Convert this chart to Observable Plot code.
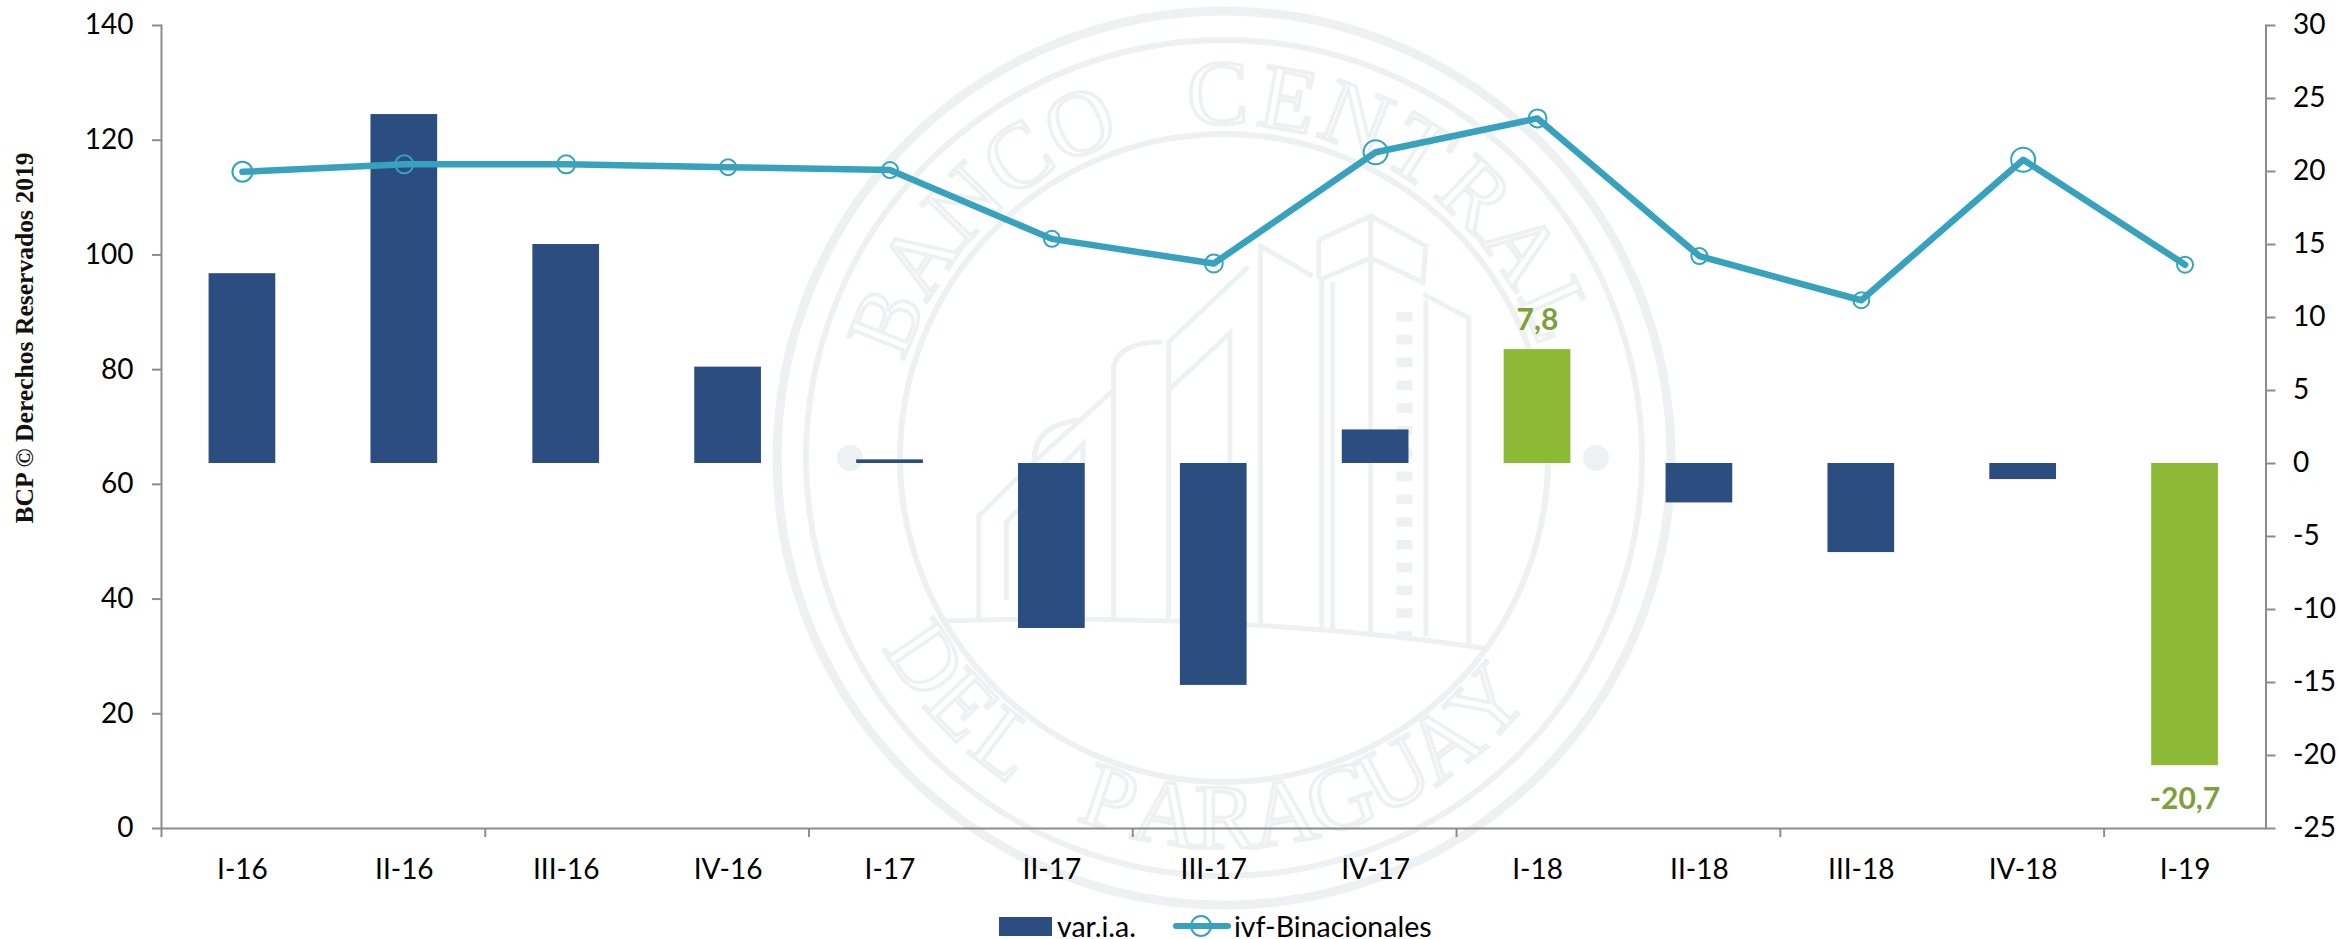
<!DOCTYPE html>
<html><head><meta charset="utf-8">
<script src="https://cdn.jsdelivr.net/npm/d3@7"></script>
<script src="https://cdn.jsdelivr.net/npm/@observablehq/plot@0.6"></script>
<style>
html,body{margin:0;padding:0;background:#fff;width:2338px;height:939px;overflow:hidden;font-family:Lato,sans-serif;color:#000}
#wm{position:absolute;left:0;top:0;z-index:0}
#chart{position:absolute;left:0;top:0;z-index:1}
#chart svg{background:transparent;display:block}
#legend{position:absolute;left:0;top:895px;width:2338px;height:44px;z-index:2;font-size:28.5px;line-height:28px}
#legend .sw{position:absolute;left:999px;top:22px;width:53px;height:19px;background:#2b4d80}
#legend .t{position:absolute;top:17px;white-space:nowrap}
#legend svg{position:absolute;left:1170px;top:16px}
</style></head><body>
<svg id="wm" width="2338" height="939" xmlns="http://www.w3.org/2000/svg">
<g fill="none" stroke="#eef1f1">
<circle cx="1224" cy="458" r="447" stroke-width="9"/>
<circle cx="1224" cy="458" r="418" stroke-width="6"/>
<circle cx="1224" cy="458" r="324" stroke-width="6"/>
<g transform="translate(740,0) scale(0.6124,0.6)" stroke-width="8">
<path d="M335,1035 Q800,1020 1215,1080"/>
<path d="M390,1030 V860 L480,770 Q480,705 560,700 M480,770 L610,650 M435,1000 V870 L560,740 V1030 M610,1030 V610 Q620,570 690,570 M700,1030 V570 L830,445 M700,650 L800,555 V1035 M850,1040 V410 L935,460 M945,400 L1030,360 L1120,410 L1115,470 L1030,430 L950,465 V1050 M945,400 V465 M1030,360 V1060 M968,470 V1050 M1115,490 L1190,530 V1075 M1120,500 V1060"/>
<path d="M1085,520 V1060" stroke-width="26" stroke-dasharray="16 22"/>
</g>
</g>
<circle cx="850" cy="458" r="13" fill="#eef1f1"/>
<circle cx="1596" cy="458" r="13" fill="#eef1f1"/>
<g id="wmText" font-family="Liberation Serif" font-size="92" fill="none" stroke="#eef1f1" stroke-width="3.5" text-anchor="middle"></g>
<text transform="translate(33,338) rotate(-90)" text-anchor="middle" font-family="Liberation Serif" font-weight="bold" font-size="25.6" fill="#111">BCP © Derechos Reservados 2019</text>
</svg>
<div id="chart"></div>
<div id="legend">
<div class="sw"></div><div class="t" style="left:1057px">var.i.a.</div>
<svg width="64" height="30"><line x1="6" x2="58" y1="15" y2="15" stroke="#36a2bd" stroke-width="6" stroke-linecap="round"/><circle cx="31" cy="15" r="10" fill="none" stroke="#36a2bd" stroke-width="2"/></svg>
<div class="t" style="left:1234px">ivf-Binacionales</div>
</div>
<script>
const periods = ["I-16","II-16","III-16","IV-16","I-17","II-17","III-17","IV-17","I-18","II-18","III-18","IV-18","I-19"];
const varIA = [13.0,23.9,15.0,6.6,0.25,-11.3,-15.2,2.3,7.8,-2.7,-6.1,-1.1,-20.7];
const ivf = [114.5,115.8,115.8,115.3,114.8,102.8,98.5,117.9,123.8,99.8,92.1,116.6,98.3];
const markerSize = [10,9,9,8,8,8,9,12,9,8,8,12,8];
const highlighted = ["I-18","I-19"];
const leftTicks = [0,20,40,60,80,100,120,140];
const rightTicks = [-25,-20,-15,-10,-5,0,5,10,15,20,25,30];
const edgeTicks = ["I-16","III-16","I-17","III-17","I-18","III-18","I-19"];

// Watermark seal lettering, one letter at a time around the ring
const wmG = d3.select("#wmText");
const sealTop = "BANCO CENTRAL", sealBottom = "DEL PARAGUAY";
[...sealTop].forEach((c,i) => {
  const deg = -68 + i * 134 / (sealTop.length - 1), a = deg * Math.PI / 180;
  wmG.append("text").text(c)
    .attr("transform", `translate(${1224 + 334 * Math.sin(a)},${458 - 334 * Math.cos(a)}) rotate(${deg})`);
});
[...sealBottom].forEach((c,i) => {
  const deg = -56 + i * 103 / (sealBottom.length - 1), a = deg * Math.PI / 180;
  wmG.append("text").text(c)
    .attr("transform", `translate(${1224 + 390 * Math.sin(a)},${458 + 390 * Math.cos(a)}) rotate(${-deg})`);
});

const toLeft = v => (v + 25) * 140 / 55;
const rows = periods.map((p,i) => ({p, v: varIA[i], ivf: ivf[i], r: markerSize[i]}));
const rightLabel = new Map(rightTicks.map(t => [toLeft(t), String(t)]));
const axisColor = "#8c8c8c";
const labelStyle = {x:"p", y: d => toLeft(d.v), text: d => String(d.v).replace(".", ","),
  fill:"#7f9f3d", fontWeight:700, fontFamily:"Lato", fontSize:30};

const plot = Plot.plot({
  width: 2338, height: 895,
  marginLeft: 161, marginRight: 72.5, marginTop: 25, marginBottom: 67,
  style: {background:"transparent", fontFamily:"Lato", fontSize:"28px", color:"#000"},
  x: {domain: periods, paddingInner: 0.588, paddingOuter: 0.294, round:false, label:null, axis:null},
  y: {domain: [0,140], label:null, axis:null},
  r: {type:"identity"},
  marks: [
    Plot.barY(rows, {x:"p", y1: () => toLeft(0), y2: d => toLeft(d.v),
      fill: d => highlighted.includes(d.p) ? "#8cb936" : "#2b4d80"}),
    Plot.ruleY([0], {stroke:axisColor, strokeWidth:2}),
    Plot.frame({anchor:"left", stroke:axisColor, strokeWidth:2}),
    Plot.frame({anchor:"right", stroke:axisColor, strokeWidth:2}),
    Plot.axisY(leftTicks, {anchor:"left", tickSize:9, tickPadding:19, stroke:axisColor, fill:"#000", strokeWidth:2, label:null, tickFormat:String}),
    Plot.axisY(rightTicks.map(toLeft), {anchor:"right", tickSize:9, tickPadding:18, stroke:axisColor, fill:"#000", strokeWidth:2, label:null, tickFormat:d => rightLabel.get(d)}),
    Plot.axisX(edgeTicks, {anchor:"bottom", tickSize:9, stroke:axisColor, strokeWidth:2, dx:-80.95, tickFormat:null, label:null}),
    Plot.axisX(periods, {anchor:"bottom", tickSize:0, tickPadding:31, fill:"#000", label:null}),
    Plot.dot(rows, {x:"p", y:"ivf", r:"r", stroke:"#36a2bd", strokeWidth:2, fill:"none"}),
    Plot.line(rows, {x:"p", y:"ivf", stroke:"#36a2bd", strokeWidth:6.5, strokeLinejoin:"round", strokeLinecap:"round"}),
    Plot.text(rows.filter(d => highlighted.includes(d.p) && d.v > 0), {...labelStyle, dy:-29}),
    Plot.text(rows.filter(d => highlighted.includes(d.p) && d.v < 0), {...labelStyle, dy:34})
  ]
});
document.getElementById("chart").append(plot);
</script>
</body></html>
